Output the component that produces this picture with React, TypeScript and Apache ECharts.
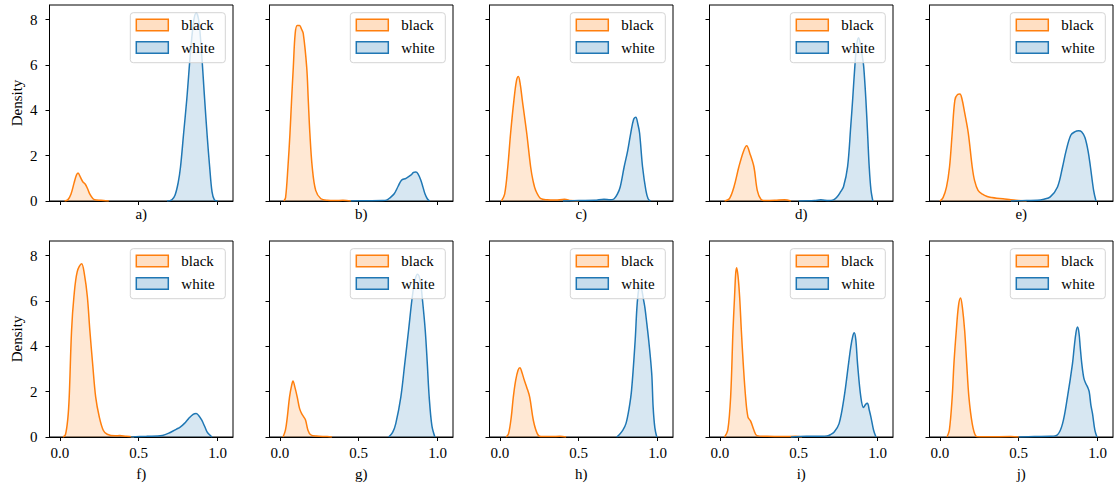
import React, { useEffect, useRef } from "react";
import * as echarts from "echarts";

const panelLabels = ["a)", "b)", "c)", "d)", "e)", "f)", "g)", "h)", "i)", "j)"];
const xTicks = [0, 0.5, 1.0];
const yTicks = [0, 2, 4, 6, 8];
const legendNames = ["black", "white"];
const yAxisTitle = "Density";

const aBlack = [[0.03, 0], [0.05, 0.05], [0.07, 0.3], [0.09, 0.8], [0.105, 1.15], [0.115, 1.24], [0.13, 1.05], [0.145, 0.85], [0.16, 0.75], [0.175, 0.55], [0.19, 0.3], [0.21, 0.1], [0.23, 0.04], [0.26, 0.03], [0.29, 0.01], [0.31, 0]];
const aWhite = [[0.68, 0], [0.71, 0.05], [0.73, 0.25], [0.75, 0.8], [0.765, 1.5], [0.785, 3.0], [0.805, 4.5], [0.83, 6.7], [0.85, 8.0], [0.865, 8.3], [0.88, 8.0], [0.897, 6.7], [0.918, 4.5], [0.935, 2.8], [0.95, 1.5], [0.965, 0.4], [0.98, 0.05], [1.0, 0]];
const bBlack = [[0.025, 0], [0.036, 0.15], [0.051, 1.5], [0.064, 3.0], [0.074, 4.45], [0.085, 5.9], [0.097, 7.4], [0.11, 7.75], [0.125, 7.75], [0.136, 7.6], [0.148, 7.4], [0.17, 5.9], [0.18, 4.45], [0.19, 3.0], [0.205, 1.5], [0.227, 0.47], [0.26, 0.1], [0.3, 0.03], [0.35, 0.02], [0.4, 0.03], [0.45, 0]];
const bWhite = [[0.45, 0], [0.55, 0.01], [0.65, 0.02], [0.68, 0.05], [0.7, 0.15], [0.725, 0.32], [0.75, 0.65], [0.771, 0.92], [0.8, 1.0], [0.83, 1.14], [0.848, 1.26], [0.862, 1.28], [0.876, 1.2], [0.894, 0.92], [0.908, 0.6], [0.92, 0.32], [0.935, 0.1], [0.95, 0]];
const cBlack = [[0.01, 0], [0.03, 0.3], [0.05, 1.5], [0.068, 3.0], [0.089, 4.45], [0.105, 5.3], [0.117, 5.49], [0.128, 5.2], [0.142, 4.45], [0.17, 3.0], [0.195, 1.5], [0.21, 0.9], [0.227, 0.47], [0.26, 0.1], [0.3, 0.05], [0.35, 0.04], [0.41, 0.08], [0.45, 0.02], [0.5, 0]];
const cWhite = [[0.4, 0], [0.5, 0.02], [0.6, 0.03], [0.66, 0.08], [0.7, 0.05], [0.725, 0.1], [0.745, 0.3], [0.763, 0.62], [0.788, 1.5], [0.81, 2.2], [0.83, 3.0], [0.848, 3.6], [0.862, 3.7], [0.875, 3.4], [0.886, 3.0], [0.905, 1.5], [0.926, 0.47], [0.94, 0.1], [0.955, 0]];
const dBlack = [[0.03, 0], [0.06, 0.1], [0.089, 0.62], [0.12, 1.5], [0.15, 2.2], [0.17, 2.44], [0.19, 2.1], [0.216, 1.5], [0.237, 0.47], [0.26, 0.08], [0.29, 0.02], [0.35, 0.03], [0.41, 0.05], [0.45, 0]];
const dWhite = [[0.5, 0], [0.6, 0.02], [0.64, 0.05], [0.69, 0.02], [0.72, 0.05], [0.74, 0.15], [0.765, 0.4], [0.784, 0.63], [0.81, 1.52], [0.83, 3.3], [0.842, 4.47], [0.856, 5.94], [0.868, 6.9], [0.88, 7.2], [0.892, 6.9], [0.903, 6.4], [0.912, 5.94], [0.926, 4.47], [0.938, 2.8], [0.947, 1.52], [0.958, 0.5], [0.97, 0]];
const eBlack = [[0.0, 0], [0.02, 0.15], [0.042, 0.62], [0.061, 1.5], [0.078, 3.0], [0.095, 4.45], [0.112, 4.7], [0.127, 4.72], [0.14, 4.5], [0.157, 3.9], [0.18, 3.0], [0.205, 1.5], [0.22, 0.9], [0.242, 0.47], [0.27, 0.3], [0.3, 0.2], [0.33, 0.15], [0.36, 0.12], [0.4, 0.1], [0.45, 0.05], [0.5, 0.02], [0.55, 0]];
const eWhite = [[0.45, 0], [0.55, 0.02], [0.62, 0.03], [0.66, 0.08], [0.7, 0.18], [0.746, 0.62], [0.778, 1.5], [0.8, 2.2], [0.83, 2.9], [0.855, 3.05], [0.88, 3.1], [0.9, 3.05], [0.92, 2.8], [0.94, 2.2], [0.955, 1.5], [0.975, 0.47], [0.99, 0]];
const fBlack = [[0.02, 0], [0.035, 0.1], [0.05, 0.8], [0.059, 1.76], [0.074, 4.7], [0.089, 6.2], [0.11, 7.3], [0.138, 7.65], [0.155, 7.2], [0.174, 6.2], [0.19, 4.7], [0.208, 3.2], [0.227, 1.76], [0.25, 0.88], [0.275, 0.3], [0.3, 0.12], [0.35, 0.05], [0.38, 0.07], [0.42, 0.03], [0.47, 0]];
const fWhite = [[0.45, 0], [0.55, 0.03], [0.65, 0.07], [0.7, 0.2], [0.74, 0.35], [0.763, 0.44], [0.79, 0.6], [0.815, 0.8], [0.845, 1.0], [0.864, 1.04], [0.88, 0.95], [0.9, 0.74], [0.92, 0.44], [0.936, 0.2], [0.965, 0]];
const gBlack = [[0.02, 0], [0.035, 0.3], [0.047, 0.88], [0.061, 1.76], [0.075, 2.3], [0.083, 2.47], [0.095, 2.2], [0.11, 1.76], [0.125, 1.25], [0.138, 1.03], [0.15, 0.9], [0.163, 0.74], [0.178, 0.3], [0.195, 0.1], [0.23, 0.04], [0.3, 0.02], [0.33, 0]];
const gWhite = [[0.69, 0], [0.715, 0.2], [0.735, 0.59], [0.767, 1.76], [0.792, 3.24], [0.816, 4.7], [0.84, 6.2], [0.858, 6.95], [0.873, 7.18], [0.89, 6.9], [0.905, 6.0], [0.922, 4.7], [0.935, 3.24], [0.947, 1.76], [0.964, 0.5], [0.983, 0]];
const hBlack = [[0.04, 0], [0.055, 0.15], [0.072, 0.88], [0.085, 1.76], [0.1, 2.5], [0.115, 2.95], [0.127, 3.06], [0.14, 2.85], [0.155, 2.5], [0.17, 2.2], [0.189, 1.76], [0.212, 0.74], [0.237, 0.15], [0.26, 0.02], [0.33, 0.02], [0.38, 0.03], [0.42, 0]];
const hWhite = [[0.74, 0], [0.757, 0.1], [0.78, 0.3], [0.8, 0.6], [0.818, 1.2], [0.835, 2.06], [0.858, 4.26], [0.869, 5.7], [0.88, 6.5], [0.89, 6.68], [0.9, 6.5], [0.91, 6.1], [0.92, 5.7], [0.932, 5.0], [0.944, 4.26], [0.963, 2.8], [0.972, 1.32], [0.983, 0.4], [0.995, 0]];
const iBlack = [[0.03, 0], [0.05, 0.3], [0.068, 1.76], [0.083, 4.7], [0.093, 6.2], [0.1, 7.2], [0.106, 7.47], [0.115, 7.1], [0.125, 6.2], [0.136, 4.7], [0.148, 3.24], [0.163, 1.76], [0.178, 0.88], [0.195, 0.7], [0.216, 0.3], [0.235, 0.06], [0.3, 0.03], [0.4, 0.02], [0.48, 0.03], [0.52, 0]];
const iWhite = [[0.45, 0], [0.55, 0.03], [0.65, 0.03], [0.68, 0.05], [0.7, 0.1], [0.725, 0.22], [0.756, 0.59], [0.788, 1.76], [0.816, 3.24], [0.83, 3.97], [0.843, 4.45], [0.852, 4.6], [0.862, 4.3], [0.873, 3.24], [0.894, 1.76], [0.911, 1.3], [0.925, 1.45], [0.936, 1.49], [0.947, 1.2], [0.958, 0.88], [0.975, 0.3], [0.99, 0]];
const jBlack = [[0.045, 0], [0.06, 0.3], [0.078, 1.76], [0.089, 3.24], [0.104, 4.7], [0.118, 5.8], [0.131, 6.13], [0.143, 5.7], [0.157, 4.7], [0.17, 3.24], [0.184, 1.76], [0.205, 0.59], [0.227, 0.05], [0.25, 0.01], [0.3, 0.01], [0.45, 0.02], [0.5, 0]];
const jWhite = [[0.5, 0], [0.6, 0.02], [0.7, 0.03], [0.746, 0.1], [0.778, 0.59], [0.809, 1.76], [0.841, 3.24], [0.852, 3.97], [0.863, 4.6], [0.873, 4.85], [0.882, 4.6], [0.89, 3.97], [0.9, 3.24], [0.913, 2.6], [0.926, 2.35], [0.937, 2.2], [0.947, 2.0], [0.958, 1.4], [0.968, 1.03], [0.983, 0.3], [0.996, 0]];

const blackData = [aBlack, bBlack, cBlack, dBlack, eBlack, fBlack, gBlack, hBlack, iBlack, jBlack];
const whiteData = [aWhite, bWhite, cWhite, dWhite, eWhite, fWhite, gWhite, hWhite, iWhite, jWhite];

const ORANGE = "#ff7f0e";
const BLUE = "#1f77b4";
const ORANGE_FILL = "rgba(255,127,14,0.25)";
const BLUE_FILL = "rgba(31,119,180,0.25)";
const FONT = "Liberation Serif";

const COL_LEFT0 = 49.5;
const COL_STEP = 220;
const PANEL_W = 183.5;
const ROW_TOPS = [5, 241];
const PANEL_H = 196;

export default function App() {
  const ref = useRef<HTMLDivElement>(null);
  useEffect(() => {
    document.body.style.margin = "0";
    if (!ref.current) return;
    const chart = echarts.init(ref.current, null, { renderer: "svg" });
    const grids: any[] = [];
    const xAxes: any[] = [];
    const yAxes: any[] = [];
    const series: any[] = [];
    const graphics: any[] = [];
    const textBase = { fontFamily: FONT, fontSize: 15, color: "#000" };
    for (let i = 0; i < 10; i++) {
      const row = Math.floor(i / 5);
      const col = i % 5;
      const left = COL_LEFT0 + COL_STEP * col;
      const top = ROW_TOPS[row];
      grids.push({
        left, top, width: PANEL_W, height: PANEL_H,
        show: true, borderColor: "#000", borderWidth: 1, backgroundColor: "transparent",
      });
      xAxes.push({
        type: "value", gridIndex: i, min: -0.066, max: 1.098, position: "bottom",
        axisLine: { show: true, onZero: false, lineStyle: { color: "#000", width: 1 } },
        splitLine: { show: false },
        axisTick: { show: true, inside: false, length: 4, lineStyle: { color: "#000", width: 1 }, customValues: xTicks },
        axisLabel: {
          show: row === 1, customValues: xTicks, margin: 8,
          formatter: (v: number) => v.toFixed(1),
          ...textBase,
        },
        name: panelLabels[i], nameLocation: "middle", nameGap: row === 0 ? 5 : 29,
        nameTextStyle: { ...textBase },
      });
      yAxes.push({
        type: "value", gridIndex: i, min: 0, max: 8.65, position: "left",
        axisLine: { show: true, onZero: false, lineStyle: { color: "#000", width: 1 } },
        splitLine: { show: false },
        axisTick: { show: true, inside: false, length: 4, lineStyle: { color: "#000", width: 1 }, customValues: yTicks },
        axisLabel: {
          show: col === 0, customValues: yTicks, margin: 12,
          ...textBase,
        },
        name: col === 0 ? yAxisTitle : "", nameLocation: "middle", nameGap: 25, nameRotate: 90,
        nameTextStyle: { ...textBase },
      });
      const datasets = [blackData[i], whiteData[i]];
      const colors = [ORANGE, BLUE];
      const fills = [ORANGE_FILL, BLUE_FILL];
      for (let k = 0; k < 2; k++) {
        series.push({
          type: "line", name: legendNames[k], xAxisIndex: i, yAxisIndex: i,
          data: datasets[k], smooth: 0.35, showSymbol: false, symbol: "none",
          lineStyle: { color: colors[k], width: 1.5 },
          itemStyle: { color: colors[k] },
          areaStyle: { color: fills[k], origin: "start" },
          silent: true, z: 2 + k,
        });
      }
      const boxLeft = left + PANEL_W - 7.7 - 95;
      const boxTop = top + 7.7;
      const children: any[] = [
        {
          type: "rect", z: 100,
          shape: { x: boxLeft, y: boxTop, width: 95, height: 50, r: 3 },
          style: { fill: "rgba(255,255,255,0.8)", stroke: "#d4d4d4", lineWidth: 1 },
        },
      ];
      for (let k = 0; k < 2; k++) {
        const sy = boxTop + 6.6 + k * 22.5;
        children.push({
          type: "rect", z: 101,
          shape: { x: boxLeft + 6, y: sy, width: 32, height: 11.5 },
          style: { fill: fills[k], stroke: colors[k], lineWidth: 1.5 },
        });
        children.push({
          type: "text", z: 101,
          x: boxLeft + 51, y: sy + 6,
          style: {
            text: legendNames[k], fill: "#000",
            fontFamily: FONT, fontSize: 15, align: "left", verticalAlign: "middle",
          },
        });
      }
      graphics.push({ type: "group", children });
    }
    chart.setOption({
      animation: false,
      textStyle: { fontFamily: FONT },
      grid: grids,
      xAxis: xAxes,
      yAxis: yAxes,
      series,
      graphic: { elements: graphics },
    });
    return () => chart.dispose();
  }, []);
  return <div ref={ref} style={{ width: 1114, height: 484 }} />;
}
